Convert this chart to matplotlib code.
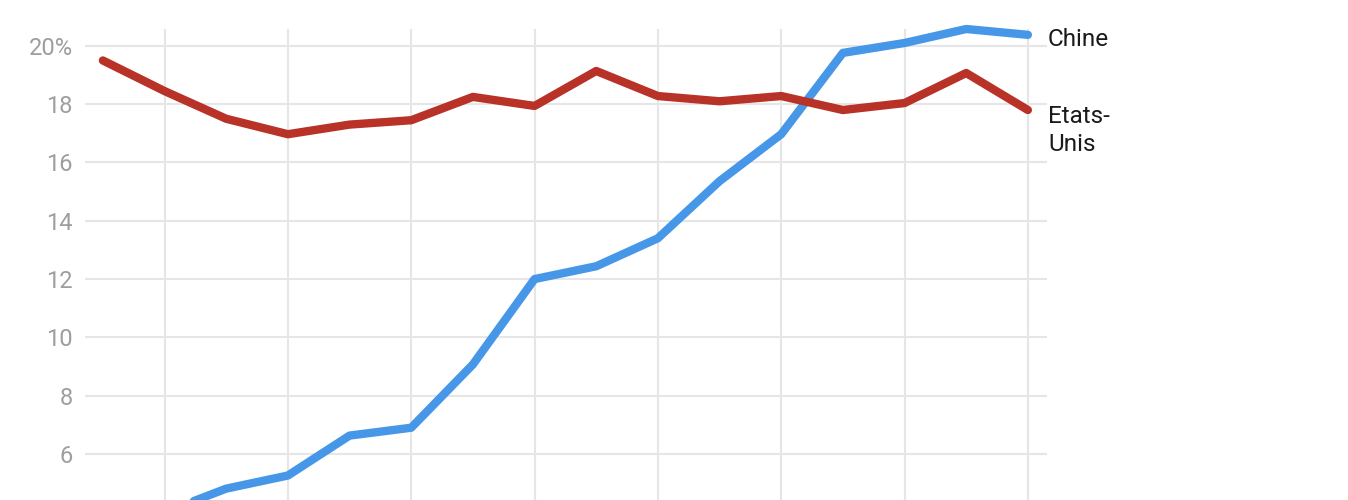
import matplotlib
matplotlib.use("Agg")
import matplotlib.pyplot as plt

plt.rcParams['font.family'] = ['Roboto', 'DejaVu Sans']

# parts de marché (%) par point, de gauche à droite
etats_unis = [19.5, 18.45, 17.5, 16.97, 17.3, 17.45, 18.25, 17.94,
              19.14, 18.28, 18.1, 18.28, 17.8, 18.04, 19.07, 17.8]
chine = [3.7, 4.0, 4.81, 5.26, 6.63, 6.9, 9.07, 12.0,
         12.44, 13.4, 15.36, 16.97, 19.76, 20.1, 20.58, 20.38]
yticks = [6, 8, 10, 12, 14, 16, 18, 20]
ytick_labels = ['6', '8', '10', '12', '14', '16', '18', '20%']

x = list(range(len(chine)))

fig = plt.figure(figsize=(13.48, 5.0), dpi=100)
ax = fig.add_axes([85 / 1348, 0.0, (1047 - 85) / 1348, 1 - 29 / 500])

blue = '#4797e8'
red = '#b83228'
ax.plot(x, chine, color=blue, lw=6, solid_capstyle='round', zorder=3, clip_on=False)
ax.plot(x, etats_unis, color=red, lw=6, solid_capstyle='round', zorder=4, clip_on=False)

ax.set_xlim(-0.29, 15.31)
ax.set_ylim(4.42, 20.58)
ax.set_xticks(x[1::2])
ax.set_xticklabels([])
ax.set_yticks(yticks)
ax.set_yticklabels(ytick_labels)
ax.grid(True, color='#e6e6e6', lw=1.5, zorder=0)
ax.tick_params(axis='both', length=0)
ax.tick_params(axis='y', labelsize=17, labelcolor='#9e9e9e', pad=9)
for s in ax.spines.values():
    s.set_visible(False)

ax.annotate('Chine', (x[-1], chine[-1]), xytext=(14.5, -3.5), textcoords='offset points',
            ha='left', va='center', fontsize=17.5, color='#1a1a1a', annotation_clip=False)
ax.annotate('Etats-\nUnis', (x[-1], etats_unis[-1]), xytext=(14.5, 3.5), textcoords='offset points',
            ha='left', va='top', fontsize=17.5, color='#1a1a1a', linespacing=1.25,
            annotation_clip=False)

fig.savefig('out.png', dpi=100)
